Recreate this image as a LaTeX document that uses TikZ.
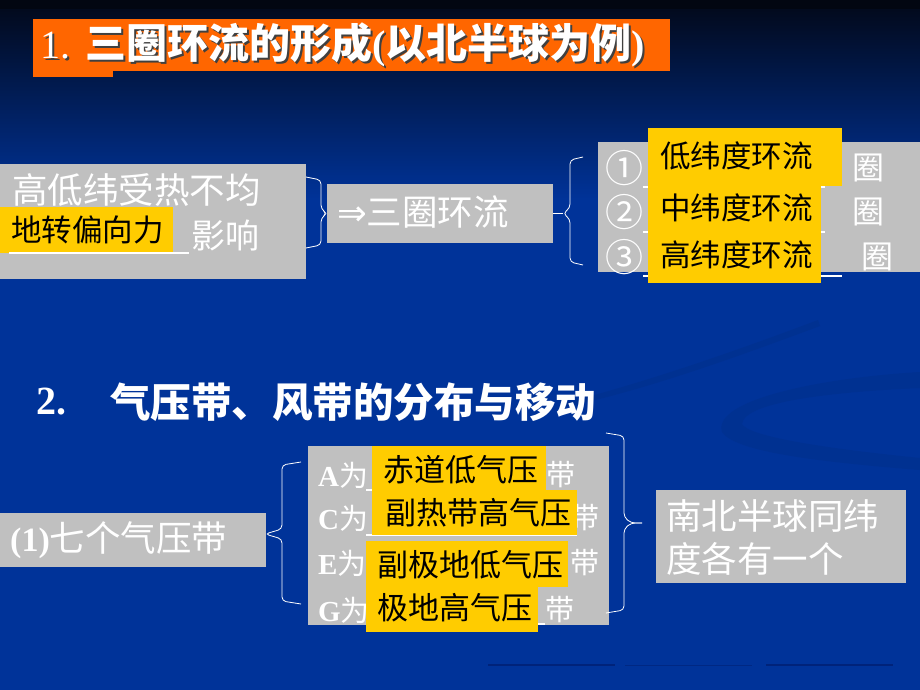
\documentclass[tikz,border=0pt]{standalone}
\usepackage{fontspec}
\setmainfont{Liberation Serif}
\newfontfamily\cjk{Noto Sans CJK SC}
\newfontfamily\symf{DejaVu Sans}
\usetikzlibrary{fit}
\definecolor{bgblue}{HTML}{003399}
\definecolor{bgdark}{HTML}{020818}
\definecolor{bgmid}{HTML}{04205F}
\definecolor{swoosh}{HTML}{003191}
\definecolor{grbox}{HTML}{C0C0C0}
\definecolor{hilite}{HTML}{FFCC00}
\definecolor{titleor}{HTML}{FF6600}
\definecolor{rulecol}{HTML}{00237A}
\newcommand{\fs}[1]{\fontsize{#1}{#1}\selectfont}
\tikzset{
  greybox/.style={fill=grbox, inner sep=0pt, outer sep=0pt},
  hibox/.style={fill=hilite, inner sep=0pt, outer sep=0pt},
  wtext/.style={inner sep=0pt, anchor=west, text=white, font=\cjk\fs{35.5}},
  btext/.style={inner sep=0pt, anchor=west, text=black, font=\cjk\fs{30.5}},
  rowtext/.style={wtext, font=\cjk\fs{29}},
  bracepath/.style={draw=white, line width=0.8pt, rounded corners=4pt},
  uline/.style={draw=white, line width=1.2pt},
}
\begin{document}
\begin{tikzpicture}[x=1pt,y=-1pt]
\useasboundingbox (0,0) rectangle (920,690);
\fill[top color=bgdark, middle color=bgmid, bottom color=bgblue] (0,0) rectangle (920,200);
\fill[bgdark!70!black] (0,0) rectangle (920,9);
\fill[bgblue] (0,200) rectangle (920,690);
\fill[swoosh] (920,372) .. controls (820,378) and (712,400) .. (722,432) .. controls (735,452) and (820,462) .. (920,470) -- (920,458) .. controls (820,448) and (748,436) .. (742,424) .. controls (744,402) and (830,392) .. (920,388) -- cycle;
\fill[swoosh] (560,404) .. controls (650,382) and (760,342) .. (818,320) -- (820,326) .. controls (760,348) and (650,390) .. (560,408) -- cycle;

\node[fit={(33,19) (670,71)}, fill=titleor, inner sep=0pt] (titlebar) {};
\node[fit={(33,71) (113,77)}, fill=titleor, inner sep=0pt] (titletab) {};
\node[inner sep=0pt, anchor=west, text=black!75, font=\fs{40}] (title1s) at (42,47) {1.\hspace{15pt}{\cjk\bfseries\fs{41}三圈环流的形成}{\bfseries(}{\cjk\bfseries\fs{41}以北半球为例}{\bfseries)}};
\node[inner sep=0pt, anchor=west, text=white, font=\fs{40}] (title1) at (40,45) {1.\hspace{15pt}{\cjk\bfseries\fs{41}三圈环流的形成}{\bfseries(}{\cjk\bfseries\fs{41}以北半球为例}{\bfseries)}};

\node[fit={(0,164) (306,279)}, greybox] (causes) {};
\node[wtext] (uneven) at (12,190) {高低纬受热不均};
\node[fit={(0,207) (173,253)}, hibox] (coriolisbg) {};
\draw[uline] (9,253) -- (189,253);
\node[btext] (coriolis) at (11,230) {地转偏向力};
\node[wtext, font=\cjk\fs{34}] (effect) at (191,235) {影响};

\node[fit={(327,184) (553,243)}, greybox] (three) {};
\node[wtext] (threetxt) at (337,212) {{\symf ⇒}三圈环流};
\draw[bracepath] (306,177) -- (321,180) -- (321,209) -- (three.west) -- (321,218) -- (321,245) -- (306,248);

\coordinate (b2tip) at (563,213.5);
\draw[white, line width=0.8pt] (three.east) -- (b2tip);
\draw[bracepath] (583,157) -- (570,160) -- (570,208) -- (b2tip) -- (570,219) -- (570,262) -- (583,265);

\node[fit={(598,142) (920,272)}, greybox] (cells) {};
\draw[uline] (643,187) -- (825,187);
\draw[uline] (643,232) -- (825,232);
\draw[uline] (643,276) -- (842,276);
\node[fit={(648,128) (842,186)}, hibox] (lowbg) {};
\node[fit={(648,186) (821,232)}, hibox] (midbg) {};
\node[fit={(648,232) (821,283)}, hibox] (highbg) {};
\node[wtext, font=\cjk\fs{38}] (n1) at (605,168) {①};
\node[wtext, font=\cjk\fs{38}] (n2) at (605,212) {②};
\node[wtext, font=\cjk\fs{38}] (n3) at (605,257) {③};
\node[btext] (low) at (660,156) {低纬度环流};
\node[btext] (mid) at (660,208) {中纬度环流};
\node[btext] (high) at (660,255) {高纬度环流};
\node[wtext, font=\cjk\fs{32}] (q1) at (852,168) {圈};
\node[wtext, font=\cjk\fs{32}] (q2) at (852,212) {圈};
\node[wtext, font=\cjk\fs{32}] (q3) at (861,257) {圈};

\node[inner sep=0pt, anchor=west, text=white, font=\bfseries\fs{40}] (sec2num) at (36,402) {2.};
\node[inner sep=0pt, anchor=west, text=white, font=\cjk\bfseries\fs{40.5}] (sec2) at (110,402) {气压带、风带的分布与移动};

\node[fit={(0,513) (266,567)}, greybox] (seven) {};
\node[wtext] (seventxt) at (10,540) {{\normalfont\bfseries\fs{34}(1)}七个气压带};
\coordinate (b3tip) at (265,534);
\draw[bracepath] (301,462) -- (282,465) -- (282,529) -- (b3tip) -- (282,539) -- (282,601) -- (301,604);

\node[fit={(308,446) (609,625)}, greybox] (belts) {};
\node[rowtext] (ra) at (318,475) {{\normalfont\bfseries A}为};
\node[rowtext] (rc) at (318,518) {{\normalfont\bfseries C}为};
\node[rowtext] (re) at (318,563) {{\normalfont\bfseries E}为};
\node[rowtext] (rg) at (318,610) {{\normalfont\bfseries G}为};
\node[rowtext] (da) at (546,475) {带};
\node[rowtext] (dc) at (570,518) {带};
\node[rowtext] (de) at (570,563) {带};
\node[rowtext] (dg) at (545,610) {带};
\draw[uline] (366,490) -- (546,490);
\draw[uline] (366,535) -- (577,535);
\draw[uline] (366,624) -- (545,624);
\node[fit={(372,446) (546,490)}, hibox] (eqbg) {};
\node[fit={(372,490) (577,535)}, hibox] (subtrbg) {};
\node[fit={(366,541) (568,587)}, hibox] (subpbg) {};
\node[fit={(366,587) (538,632)}, hibox] (polbg) {};
\node[btext, font=\cjk\fs{31}] (eq) at (383,470) {赤道低气压};
\node[btext, font=\cjk\fs{31}] (subtr) at (385,513) {副热带高气压};
\node[btext, font=\cjk\fs{31}] (subp) at (377,565) {副极地低气压};
\node[btext, font=\cjk\fs{31}] (pol) at (377,608) {极地高气压};

\coordinate (b4tip) at (642,523);
\draw[bracepath] (606,433) -- (624,436) -- (624,517) -- (631,523) -- (b4tip);
\draw[bracepath] (b4tip) -- (631,523) -- (624,529) -- (624,610) -- (606,613);

\node[fit={(656,490) (906,583)}, greybox] (both) {};
\node[wtext, align=left, font=\cjk\fontsize{35.5}{43}\selectfont] (bothtxt) at (666,538) {南北半球同纬\\度各有一个};

\draw[rulecol, line width=1.5pt] (488,665) -- (615,665);
\draw[rulecol!70!bgblue, line width=1pt] (625,665) -- (752,665);
\draw[rulecol, line width=1.5pt] (766,665) -- (893,665);
\end{tikzpicture}
\end{document}
